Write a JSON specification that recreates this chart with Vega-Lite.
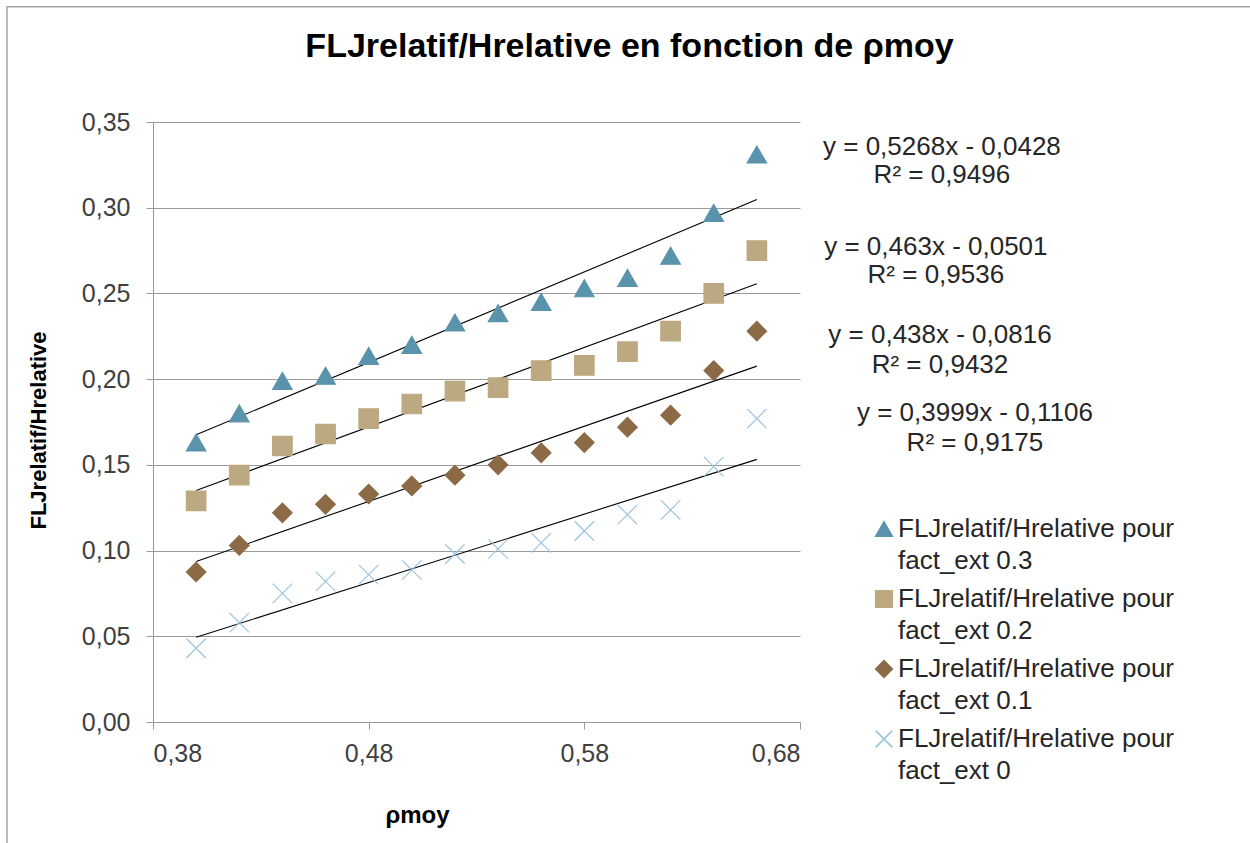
{
  "$schema": "https://vega.github.io/schema/vega-lite/v6.json",
  "width": 647,
  "height": 600,
  "autosize": {"type": "none"},
  "padding": {"left": 153, "top": 122, "right": 450, "bottom": 121},
  "background": "white",
  "config": {
    "locale": {"number": {"decimal": ",", "thousands": " ", "grouping": [3], "currency": ["", " €"]}},
    "view": {"stroke": null},
    "font": "Liberation Sans",
    "style": {"guide-label": {"lineHeight": 32}}
  },
  "title": {
    "text": "FLJrelatif/Hrelative en fonction de ρmoy",
    "font": "Liberation Sans",
    "fontSize": 34,
    "fontWeight": "bold",
    "color": "black",
    "anchor": "middle",
    "dx": 153,
    "offset": -58
  },
  "datasets": {
    "pts": [
      {"rho": 0.40, "val": 0.163, "series": "FLJrelatif/Hrelative pour fact_ext 0.3"},
      {"rho": 0.42, "val": 0.180, "series": "FLJrelatif/Hrelative pour fact_ext 0.3"},
      {"rho": 0.44, "val": 0.199, "series": "FLJrelatif/Hrelative pour fact_ext 0.3"},
      {"rho": 0.46, "val": 0.202, "series": "FLJrelatif/Hrelative pour fact_ext 0.3"},
      {"rho": 0.48, "val": 0.2135, "series": "FLJrelatif/Hrelative pour fact_ext 0.3"},
      {"rho": 0.50, "val": 0.220, "series": "FLJrelatif/Hrelative pour fact_ext 0.3"},
      {"rho": 0.52, "val": 0.233, "series": "FLJrelatif/Hrelative pour fact_ext 0.3"},
      {"rho": 0.54, "val": 0.2385, "series": "FLJrelatif/Hrelative pour fact_ext 0.3"},
      {"rho": 0.56, "val": 0.245, "series": "FLJrelatif/Hrelative pour fact_ext 0.3"},
      {"rho": 0.58, "val": 0.253, "series": "FLJrelatif/Hrelative pour fact_ext 0.3"},
      {"rho": 0.60, "val": 0.259, "series": "FLJrelatif/Hrelative pour fact_ext 0.3"},
      {"rho": 0.62, "val": 0.272, "series": "FLJrelatif/Hrelative pour fact_ext 0.3"},
      {"rho": 0.64, "val": 0.297, "series": "FLJrelatif/Hrelative pour fact_ext 0.3"},
      {"rho": 0.66, "val": 0.331, "series": "FLJrelatif/Hrelative pour fact_ext 0.3"},
      {"rho": 0.40, "val": 0.129, "series": "FLJrelatif/Hrelative pour fact_ext 0.2"},
      {"rho": 0.42, "val": 0.144, "series": "FLJrelatif/Hrelative pour fact_ext 0.2"},
      {"rho": 0.44, "val": 0.161, "series": "FLJrelatif/Hrelative pour fact_ext 0.2"},
      {"rho": 0.46, "val": 0.168, "series": "FLJrelatif/Hrelative pour fact_ext 0.2"},
      {"rho": 0.48, "val": 0.177, "series": "FLJrelatif/Hrelative pour fact_ext 0.2"},
      {"rho": 0.50, "val": 0.1855, "series": "FLJrelatif/Hrelative pour fact_ext 0.2"},
      {"rho": 0.52, "val": 0.193, "series": "FLJrelatif/Hrelative pour fact_ext 0.2"},
      {"rho": 0.54, "val": 0.195, "series": "FLJrelatif/Hrelative pour fact_ext 0.2"},
      {"rho": 0.56, "val": 0.205, "series": "FLJrelatif/Hrelative pour fact_ext 0.2"},
      {"rho": 0.58, "val": 0.208, "series": "FLJrelatif/Hrelative pour fact_ext 0.2"},
      {"rho": 0.60, "val": 0.216, "series": "FLJrelatif/Hrelative pour fact_ext 0.2"},
      {"rho": 0.62, "val": 0.228, "series": "FLJrelatif/Hrelative pour fact_ext 0.2"},
      {"rho": 0.64, "val": 0.250, "series": "FLJrelatif/Hrelative pour fact_ext 0.2"},
      {"rho": 0.66, "val": 0.275, "series": "FLJrelatif/Hrelative pour fact_ext 0.2"},
      {"rho": 0.40, "val": 0.0875, "series": "FLJrelatif/Hrelative pour fact_ext 0.1"},
      {"rho": 0.42, "val": 0.103, "series": "FLJrelatif/Hrelative pour fact_ext 0.1"},
      {"rho": 0.44, "val": 0.122, "series": "FLJrelatif/Hrelative pour fact_ext 0.1"},
      {"rho": 0.46, "val": 0.127, "series": "FLJrelatif/Hrelative pour fact_ext 0.1"},
      {"rho": 0.48, "val": 0.133, "series": "FLJrelatif/Hrelative pour fact_ext 0.1"},
      {"rho": 0.50, "val": 0.1377, "series": "FLJrelatif/Hrelative pour fact_ext 0.1"},
      {"rho": 0.52, "val": 0.144, "series": "FLJrelatif/Hrelative pour fact_ext 0.1"},
      {"rho": 0.54, "val": 0.150, "series": "FLJrelatif/Hrelative pour fact_ext 0.1"},
      {"rho": 0.56, "val": 0.157, "series": "FLJrelatif/Hrelative pour fact_ext 0.1"},
      {"rho": 0.58, "val": 0.163, "series": "FLJrelatif/Hrelative pour fact_ext 0.1"},
      {"rho": 0.60, "val": 0.172, "series": "FLJrelatif/Hrelative pour fact_ext 0.1"},
      {"rho": 0.62, "val": 0.179, "series": "FLJrelatif/Hrelative pour fact_ext 0.1"},
      {"rho": 0.64, "val": 0.205, "series": "FLJrelatif/Hrelative pour fact_ext 0.1"},
      {"rho": 0.66, "val": 0.228, "series": "FLJrelatif/Hrelative pour fact_ext 0.1"},
      {"rho": 0.40, "val": 0.043, "series": "FLJrelatif/Hrelative pour fact_ext 0"},
      {"rho": 0.42, "val": 0.058, "series": "FLJrelatif/Hrelative pour fact_ext 0"},
      {"rho": 0.44, "val": 0.075, "series": "FLJrelatif/Hrelative pour fact_ext 0"},
      {"rho": 0.46, "val": 0.082, "series": "FLJrelatif/Hrelative pour fact_ext 0"},
      {"rho": 0.48, "val": 0.086, "series": "FLJrelatif/Hrelative pour fact_ext 0"},
      {"rho": 0.50, "val": 0.0887, "series": "FLJrelatif/Hrelative pour fact_ext 0"},
      {"rho": 0.52, "val": 0.098, "series": "FLJrelatif/Hrelative pour fact_ext 0"},
      {"rho": 0.54, "val": 0.101, "series": "FLJrelatif/Hrelative pour fact_ext 0"},
      {"rho": 0.56, "val": 0.1045, "series": "FLJrelatif/Hrelative pour fact_ext 0"},
      {"rho": 0.58, "val": 0.1114, "series": "FLJrelatif/Hrelative pour fact_ext 0"},
      {"rho": 0.60, "val": 0.121, "series": "FLJrelatif/Hrelative pour fact_ext 0"},
      {"rho": 0.62, "val": 0.1237, "series": "FLJrelatif/Hrelative pour fact_ext 0"},
      {"rho": 0.64, "val": 0.149, "series": "FLJrelatif/Hrelative pour fact_ext 0"},
      {"rho": 0.66, "val": 0.177, "series": "FLJrelatif/Hrelative pour fact_ext 0"}
    ],
    "equations": [
      {"series": "FLJrelatif/Hrelative pour fact_ext 0.3", "eq": "y = 0,5268x - 0,0428", "r2": "R² = 0,9496"},
      {"series": "FLJrelatif/Hrelative pour fact_ext 0.2", "eq": "y = 0,463x - 0,0501", "r2": "R² = 0,9536"},
      {"series": "FLJrelatif/Hrelative pour fact_ext 0.1", "eq": "y = 0,438x - 0,0816", "r2": "R² = 0,9432"},
      {"series": "FLJrelatif/Hrelative pour fact_ext 0", "eq": "y = 0,3999x - 0,1106", "r2": "R² = 0,9175"}
    ],
    "frame": [{"name": "chart area"}]
  },
  "layer": [
    {
      "data": {"name": "frame"},
      "mark": {"type": "rect", "fill": null, "stroke": "#A6A6A6", "strokeWidth": 1.5, "clip": false},
      "encoding": {
        "x": {"datum": 0.3123, "type": "quantitative", "scale": {"domain": [0.38, 0.68], "nice": false, "zero": false}},
        "x2": {"datum": 0.9},
        "y": {"datum": 0.4172, "type": "quantitative", "scale": {"domain": [0, 0.35], "nice": false}},
        "y2": {"datum": -0.08}
      }
    },
    {
      "data": {"name": "pts"},
      "transform": [{"regression": "val", "on": "rho", "groupby": ["series"], "method": "linear"}],
      "mark": {"type": "line", "color": "black", "strokeWidth": 1.1},
      "encoding": {
        "x": {"field": "rho", "type": "quantitative"},
        "y": {"field": "val", "type": "quantitative"},
        "detail": {"field": "series", "type": "nominal"}
      }
    },
    {
      "data": {"name": "pts"},
      "mark": {"type": "point", "filled": true, "size": 380, "strokeWidth": 1.2, "opacity": 1},
      "encoding": {
        "x": {
          "field": "rho",
          "type": "quantitative",
          "scale": {"domain": [0.38, 0.68], "nice": false, "zero": false},
          "axis": {
            "values": [0.38, 0.48, 0.58, 0.68],
            "format": ".2f",
            "grid": false,
            "domainColor": "#9A9A9A",
            "tickColor": "#9A9A9A",
            "tickSize": 7,
            "labelFontSize": 25,
            "labelColor": "#404040",
            "labelPadding": 12,
            "title": "ρmoy",
            "titleFontSize": 24,
            "titleFontWeight": "bold",
            "titleColor": "black",
            "titleX": 264,
            "titleY": 93,
            "titleAlign": "center",
            "titleBaseline": "middle"
          }
        },
        "y": {
          "field": "val",
          "type": "quantitative",
          "scale": {"domain": [0, 0.35], "nice": false},
          "axis": {
            "values": [0, 0.05, 0.1, 0.15, 0.2, 0.25, 0.3, 0.35],
            "format": ".2f",
            "grid": true,
            "gridColor": "#9A9A9A",
            "gridWidth": 1,
            "domainColor": "#9A9A9A",
            "tickColor": "#9A9A9A",
            "tickSize": 7,
            "labelFontSize": 25,
            "labelColor": "#404040",
            "labelPadding": 16,
            "title": "FLJrelatif/Hrelative",
            "titleFontSize": 22,
            "titleFontWeight": "bold",
            "titleColor": "black",
            "titleX": -115,
            "titleY": 308,
            "titleAngle": 270,
            "titleAlign": "center",
            "titleBaseline": "middle"
          }
        },
        "fill": {
          "field": "series",
          "type": "nominal",
          "scale": {
            "domain": ["FLJrelatif/Hrelative pour fact_ext 0.3", "FLJrelatif/Hrelative pour fact_ext 0.2", "FLJrelatif/Hrelative pour fact_ext 0.1", "FLJrelatif/Hrelative pour fact_ext 0"],
            "range": ["#5A93AC", "#BDA981", "#8B6A45", "#9CC3DE"]
          },
          "legend": {
            "orient": "none",
            "legendX": 718,
            "legendY": 394,
            "title": null,
            "padding": 0,
            "labelFontSize": 26,
            "labelColor": "#262626",
            "labelLimit": 0,
            "labelOffset": 1,
            "labelExpr": "[slice(datum.label, 0, 25), slice(datum.label, 26)]",
            "symbolSize": 280,
            "rowPadding": 12
          }
        },
        "stroke": {
          "field": "series",
          "type": "nominal",
          "scale": {
            "domain": ["FLJrelatif/Hrelative pour fact_ext 0.3", "FLJrelatif/Hrelative pour fact_ext 0.2", "FLJrelatif/Hrelative pour fact_ext 0.1", "FLJrelatif/Hrelative pour fact_ext 0"],
            "range": ["#5A93AC", "#BDA981", "#8B6A45", "#9CC3DE"]
          }
        },
        "shape": {
          "field": "series",
          "type": "nominal",
          "scale": {
            "domain": ["FLJrelatif/Hrelative pour fact_ext 0.3", "FLJrelatif/Hrelative pour fact_ext 0.2", "FLJrelatif/Hrelative pour fact_ext 0.1", "FLJrelatif/Hrelative pour fact_ext 0"],
            "range": ["triangle-up", "square", "diamond", "M-1,-1L1,1M1,-1L-1,1"]
          }
        }
      }
    },
    {
      "data": {"name": "equations"},
      "transform": [{"filter": "datum.eq == 'y = 0,5268x - 0,0428'"}],
      "mark": {"type": "text", "fontSize": 26, "align": "center", "baseline": "middle", "color": "#262626"},
      "encoding": {"text": {"field": "eq"}, "x": {"datum": 0.7458, "type": "quantitative"}, "y": {"datum": 0.3355, "type": "quantitative"}}
    },
    {
      "data": {"name": "equations"},
      "transform": [{"filter": "datum.eq == 'y = 0,5268x - 0,0428'"}],
      "mark": {"type": "text", "fontSize": 26, "align": "center", "baseline": "middle", "color": "#262626"},
      "encoding": {"text": {"field": "r2"}, "x": {"datum": 0.7458, "type": "quantitative"}, "y": {"datum": 0.3191, "type": "quantitative"}}
    },
    {
      "data": {"name": "equations"},
      "transform": [{"filter": "datum.eq == 'y = 0,463x - 0,0501'"}],
      "mark": {"type": "text", "fontSize": 26, "align": "center", "baseline": "middle", "color": "#262626"},
      "encoding": {"text": {"field": "eq"}, "x": {"datum": 0.743, "type": "quantitative"}, "y": {"datum": 0.2771, "type": "quantitative"}}
    },
    {
      "data": {"name": "equations"},
      "transform": [{"filter": "datum.eq == 'y = 0,463x - 0,0501'"}],
      "mark": {"type": "text", "fontSize": 26, "align": "center", "baseline": "middle", "color": "#262626"},
      "encoding": {"text": {"field": "r2"}, "x": {"datum": 0.743, "type": "quantitative"}, "y": {"datum": 0.2608, "type": "quantitative"}}
    },
    {
      "data": {"name": "equations"},
      "transform": [{"filter": "datum.eq == 'y = 0,438x - 0,0816'"}],
      "mark": {"type": "text", "fontSize": 26, "align": "center", "baseline": "middle", "color": "#262626"},
      "encoding": {"text": {"field": "eq"}, "x": {"datum": 0.7449, "type": "quantitative"}, "y": {"datum": 0.2258, "type": "quantitative"}}
    },
    {
      "data": {"name": "equations"},
      "transform": [{"filter": "datum.eq == 'y = 0,438x - 0,0816'"}],
      "mark": {"type": "text", "fontSize": 26, "align": "center", "baseline": "middle", "color": "#262626"},
      "encoding": {"text": {"field": "r2"}, "x": {"datum": 0.7449, "type": "quantitative"}, "y": {"datum": 0.2083, "type": "quantitative"}}
    },
    {
      "data": {"name": "equations"},
      "transform": [{"filter": "datum.eq == 'y = 0,3999x - 0,1106'"}],
      "mark": {"type": "text", "fontSize": 26, "align": "center", "baseline": "middle", "color": "#262626"},
      "encoding": {"text": {"field": "eq"}, "x": {"datum": 0.7611, "type": "quantitative"}, "y": {"datum": 0.1803, "type": "quantitative"}}
    },
    {
      "data": {"name": "equations"},
      "transform": [{"filter": "datum.eq == 'y = 0,3999x - 0,1106'"}],
      "mark": {"type": "text", "fontSize": 26, "align": "center", "baseline": "middle", "color": "#262626"},
      "encoding": {"text": {"field": "r2"}, "x": {"datum": 0.7611, "type": "quantitative"}, "y": {"datum": 0.1628, "type": "quantitative"}}
    }
  ]
}
